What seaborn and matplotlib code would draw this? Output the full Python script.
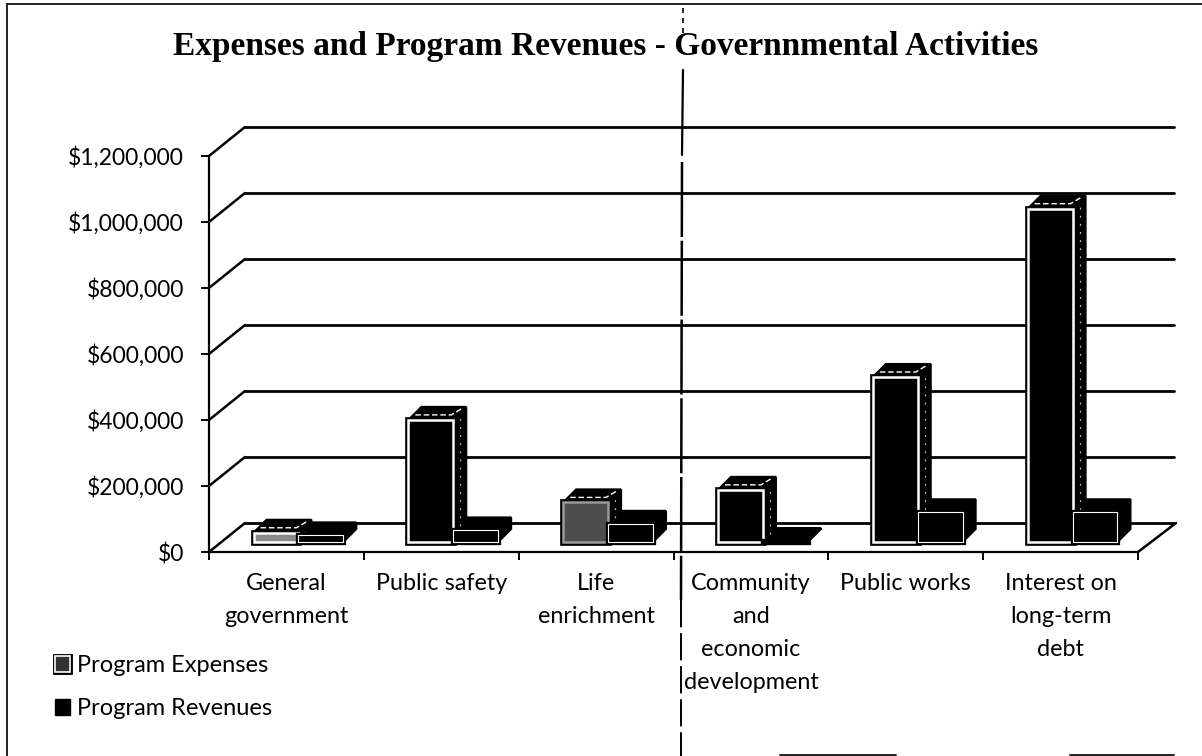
import matplotlib
matplotlib.use("Agg")
import matplotlib.pyplot as plt
import matplotlib.patheffects as pe
from matplotlib.lines import Line2D
from matplotlib.patches import Patch, Polygon
from matplotlib.transforms import IdentityTransform, ScaledTranslation
import pandas as pd
import seaborn as sns

# Values
categories = ["General\ngovernment", "Public safety", "Life\nenrichment",
              "Community\nand\neconomic\ndevelopment", "Public works",
              "Interest on\nlong-term\ndebt"]
program_expenses = [28000, 370000, 120000, 158000, 500000, 1010000]
program_revenues = [20000, 35000, 55000, 3000, 90000, 90000]
series_names = ["Program Expenses", "Program Revenues"]
y_ticks = [0, 200000, 400000, 600000, 800000, 1000000, 1200000]

W, H = 1202, 756
DPI = 100

sns.set_theme(style="white")
plt.rcParams['font.family'] = ['Lato', 'DejaVu Sans']

df = pd.DataFrame({
    "category": categories * 2,
    "series": [series_names[0]] * 6 + [series_names[1]] * 6,
    "value": program_expenses + program_revenues,
})

fig = plt.figure(figsize=(W / DPI, H / DPI), dpi=DPI, facecolor="white")
ax = fig.add_axes([209 / W, (H - 552) / H, (1138 - 209) / W, 396 / H])

sns.barplot(data=df, x="category", y="value", hue="series", order=categories,
            hue_order=series_names, palette=["black", "black"], width=0.58,
            gap=0, legend=False, ax=ax, zorder=4)

ax.set_xlim(-0.5, 5.5)
ax.set_ylim(0, 1200000)
ax.set_xlabel("")
ax.set_ylabel("")
ax.set_yticks(y_ticks)
ax.set_yticklabels([f"${v:,}" for v in y_ticks])
ax.set_xticks([-0.5, 0.5, 1.5, 2.5, 3.5, 4.5, 5.5])
ax.set_xticklabels([])
ax.patch.set_alpha(0)
sns.despine(ax=ax)
for side in ["left", "bottom"]:
    ax.spines[side].set_linewidth(1.6)
    ax.spines[side].set_color("black")
ax.tick_params(axis="both", length=6, width=1.4, color="black", left=True, bottom=True)
ax.tick_params(axis="y", labelsize=16.5, labelcolor="black", pad=12)

# Category names sit between the ticks
for i, name in enumerate(categories):
    ax.text(i, -0.052, name, transform=ax.get_xaxis_transform(), ha="center", va="top",
            fontsize=16.8, color="black", linespacing=1.72)

# Back wall and floor of the fake 3D box
back = ax.transData + ScaledTranslation(36 / DPI, 29 / DPI, fig.dpi_scale_trans)
for v in y_ticks:
    ax.plot([-0.5, 5.5], [v, v], color="black", lw=2, transform=back, clip_on=False, zorder=1)
    x0, y0 = ax.transData.transform((-0.5, v))
    ax.add_line(Line2D([x0, x0 + 36], [y0, y0 + 29], color="black", lw=1.8,
                       transform=IdentityTransform(), clip_on=False, zorder=1))
x1, y1 = ax.transData.transform((5.5, 0))
ax.add_line(Line2D([x1, x1 + 38], [y1, y1 + 29], color="black", lw=1.8,
                   transform=IdentityTransform(), clip_on=False, zorder=1))

# Bars stand a little inside the floor, with a top and side face
shift = ScaledTranslation(12 / DPI, 10 / DPI, fig.dpi_scale_trans)
depth = 13
for k, (container, edge_w) in enumerate(zip(ax.containers, [1.8, 0.8])):
    for bar in container:
        x, w, h = bar.get_x(), bar.get_width(), bar.get_height()
        (xa, ya), (xb, yb) = ax.transData.transform([(x, 0), (x + w, h)])
        xa, xb, ya, yb = xa + 12, xb + 12, ya + 10, yb + 10
        top = Polygon([(xa, yb), (xb, yb), (xb + depth, yb + depth), (xa + depth, yb + depth)])
        side = Polygon([(xb, ya), (xb, yb), (xb + depth, yb + depth), (xb + depth, ya + depth)])
        for face in [side, top]:
            face.set(facecolor="black", edgecolor="black", linewidth=1.5,
                     transform=IdentityTransform(), clip_on=False, zorder=3)
            ax.add_patch(face)
        if k == 0:
            # the scan leaves light flecks on the top and side of the expense bars
            ax.add_line(Line2D([xa + 7, xb - 2, xb + 8], [yb + 5, yb + 5, yb + 11], color="white", lw=1,
                               ls=(0, (4, 2)), transform=IdentityTransform(), clip_on=False, zorder=3.5))
            ax.add_line(Line2D([xb + 7, xb + 7], [ya + 8, yb + 3], color="#bbbbbb", lw=0.9,
                               ls=(0, (1.5, 5)), transform=IdentityTransform(), clip_on=False, zorder=3.5))
        bar.set_transform(ax.transData + shift)
        bar.set_clip_on(False)
        bar.set_edgecolor("white" if h > 5000 else "black")
        bar.set_linewidth(edge_w)
        bar.set_path_effects([pe.Stroke(linewidth=edge_w + 3, foreground="black"), pe.Normal()])
# Life enrichment expense bar prints grey
ax.containers[0][2].set_facecolor("#4d4d4d")
ax.containers[0][2].set_edgecolor("#9a9a9a")
ax.containers[0][0].set_facecolor("#8a8a8a")

# Legend
handles = [
    Patch(facecolor="#333333", edgecolor="white", linewidth=1.2,
          path_effects=[pe.Stroke(linewidth=3.5, foreground="black"), pe.Normal()]),
    Patch(facecolor="black", edgecolor="black"),
]
fig.legend(handles, series_names, loc="upper left", bbox_to_anchor=(55 / W, (H - 655) / H),
           frameon=False, fontsize=17, labelcolor="black", handlelength=0.62, handleheight=0.65,
           handletextpad=0.3, labelspacing=0.95, borderpad=0, borderaxespad=0)

# Title
fig.text(606 / W, (H - 46) / H, "Expenses and Program Revenues - Governnmental Activities",
         ha="center", va="center", fontsize=24, fontweight="bold",
         family="Liberation Serif", color="black")

# Scanned page: chart frame, leftover rules and fold line
for xs, ys in [((7, 7), (4, 756)), ((7, 1202), (4, 4)), ((780, 896), (755, 755)), ((1070, 1174), (755, 755))]:
    fig.add_artist(Line2D([x / W for x in xs], [(H - y) / H for y in ys], color="#222222", lw=1.4))
for xs, ys, lw, style in [((683, 683), (8, 33), 1.2, (0, (3, 3))),
                          ((683, 682), (70, 155), 1.6, "-"),
                          ((682, 681), (162, 600), 1.8, (0, (30, 1.5))),
                          ((681, 681), (600, 756), 1.4, (0, (14, 3)))]:
    fig.add_artist(Line2D([x / W for x in xs], [(H - y) / H for y in ys], color="black", lw=lw, ls=style))

fig.savefig("out.png", dpi=DPI)
plt.close(fig)
